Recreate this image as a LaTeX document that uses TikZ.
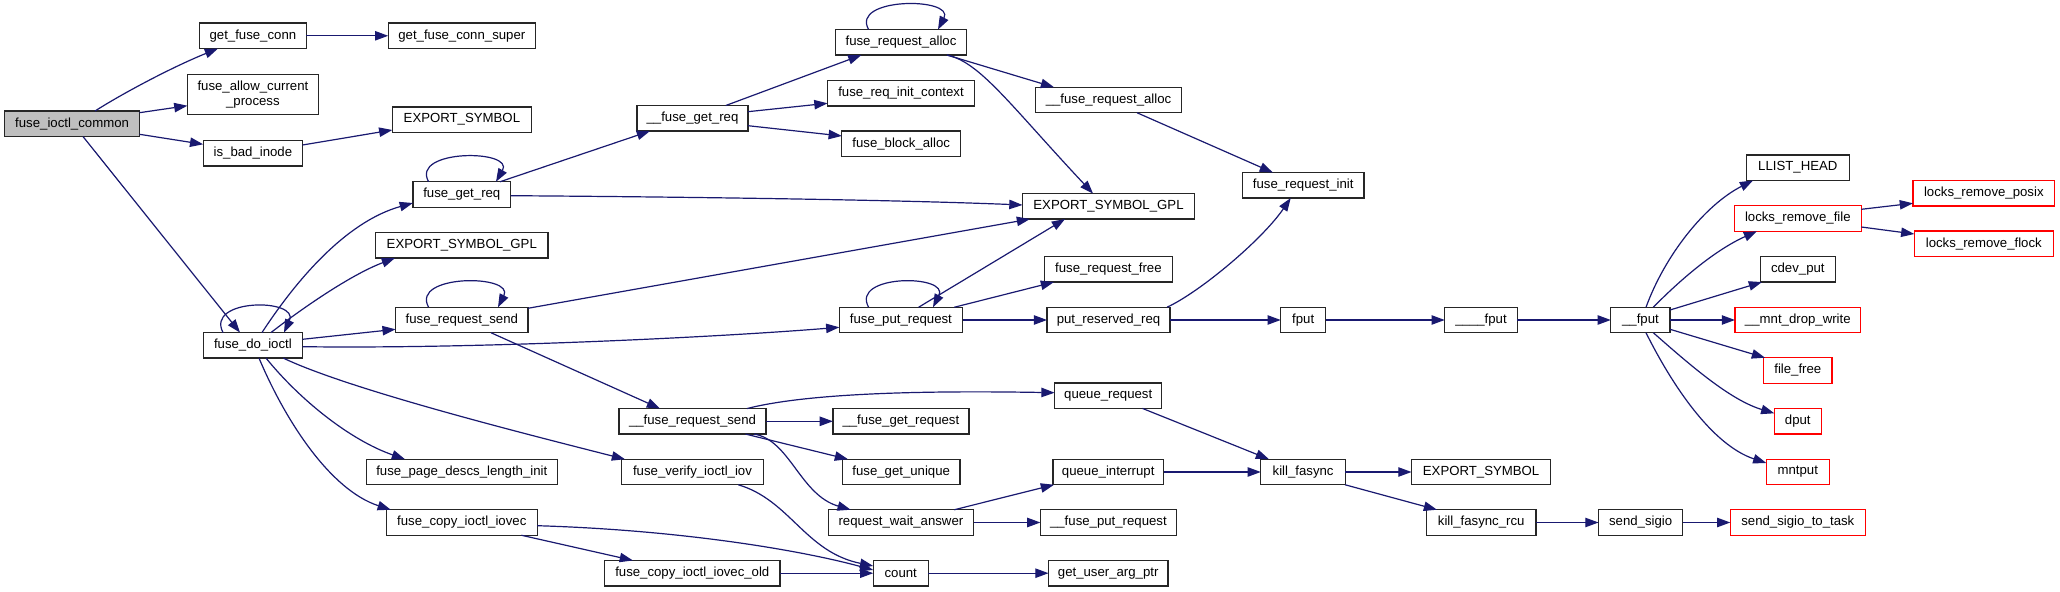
\documentclass[tikz,border=0pt]{standalone}
\usepackage{fontspec}
\setmainfont{Liberation Sans}
\usetikzlibrary{arrows.meta,calc}
\definecolor{edgec}{HTML}{191970}
\definecolor{gfill}{HTML}{BFBFBF}
\tikzset{
 box/.style={draw=black!85, line width=0.65pt, rectangle, inner sep=0pt, outer sep=0pt, minimum height=12.75pt, font=\fontsize{6.6}{7.2}\selectfont, fill=white},
 redbox/.style={box, draw=red},
 e/.style={draw=edgec, line width=0.6pt, -{Triangle[length=6.6pt,width=4.7pt]}},
}
\begin{document}
\begin{tikzpicture}[x=0.5pt,y=-0.5pt]
\useasboundingbox[fill=white] (0,0) rectangle (2060,592);
% nodes
\node[box,fill=gfill,minimum width=67.4pt] (ic) at (72.1,123.8) {fuse\_ioctl\_common};
\node[box,minimum width=53.55pt] (gfc) at (252.9,35.8) {get\_fuse\_conn};
\node[box,minimum width=73.6pt] (gfcs) at (461.8,35.8) {get\_fuse\_conn\_super};
\node[box,minimum width=65.5pt,minimum height=20pt,align=center] (facp) at (252.9,94.5) {fuse\_allow\_current\\\_process};
\node[box,minimum width=69.55pt] (esa) at (461.9,119.7) {EXPORT\_SYMBOL};
\node[box,minimum width=49.7pt] (ibi) at (252.9,153.2) {is\_bad\_inode};
\node[box,minimum width=48.9pt] (fgr) at (461.8,194.5) {fuse\_get\_req};
\node[box,minimum width=86.1pt] (esga) at (461.8,245.3) {EXPORT\_SYMBOL\_GPL};
\node[box,minimum width=49.65pt] (fdi) at (252.9,345.3) {fuse\_do\_ioctl};
\node[box,minimum width=66.1pt] (frs) at (461.8,320) {fuse\_request\_send};
\node[box,minimum width=95.35pt] (fpdli) at (461.8,472) {fuse\_page\_descs\_length\_init};
\node[box,minimum width=75.35pt] (fcii) at (461.8,522.5) {fuse\_copy\_ioctl\_iovec};
\node[box,minimum width=55.4pt] (ufgr) at (692.5,118.3) {\_\_fuse\_get\_req};
\node[box,minimum width=65.35pt] (fra) at (901,42.3) {fuse\_request\_alloc};
\node[box,minimum width=73.55pt] (fric) at (901,93.2) {fuse\_req\_init\_context};
\node[box,minimum width=59.45pt] (fba) at (901.2,143.7) {fuse\_block\_alloc};
\node[box,minimum width=72.85pt] (ufra) at (1108.5,100) {\_\_fuse\_request\_alloc};
\node[box,minimum width=86.05pt] (esgb) at (1108.5,206.3) {EXPORT\_SYMBOL\_GPL};
\node[box,minimum width=63.75pt] (frf) at (1108.4,269.3) {fuse\_request\_free};
\node[box,minimum width=60.7pt] (fri) at (1303.2,185.3) {fuse\_request\_init};
\node[box,minimum width=61.6pt] (fpr) at (900.9,320) {fuse\_put\_request};
\node[box,minimum width=61.45pt] (prr) at (1108.5,320) {put\_reserved\_req};
\node[box,minimum width=73.6pt] (ufrs) at (692.5,421.3) {\_\_fuse\_request\_send};
\node[box,minimum width=70.7pt] (fviv) at (692.5,472) {fuse\_verify\_ioctl\_iov};
\node[box,minimum width=87.7pt] (fciio) at (692.3,573.2) {fuse\_copy\_ioctl\_iovec\_old};
\node[box,minimum width=68pt] (ufgrq) at (900.9,421.3) {\_\_fuse\_get\_request};
\node[box,minimum width=58.75pt] (fgu) at (901.2,472) {fuse\_get\_unique};
\node[box,minimum width=72.7pt] (rwa) at (900.9,522.5) {request\_wait\_answer};
\node[box,minimum width=27.5pt] (cnt) at (900.7,573.2) {count};
\node[box,minimum width=53.6pt] (qr) at (1108.2,395.7) {queue\_request};
\node[box,minimum width=55.35pt] (qi) at (1108.2,472) {queue\_interrupt};
\node[box,minimum width=68pt] (ufpr) at (1108.4,522.5) {\_\_fuse\_put\_request};
\node[box,minimum width=59.65pt] (guap) at (1108.2,573.2) {get\_user\_arg\_ptr};
\node[box,minimum width=22.5pt] (fput) at (1303.2,320) {fput};
\node[box,minimum width=36.3pt] (ffput) at (1481,320) {\_\_\_\_fput};
\node[box,minimum width=29.6pt] (tfput) at (1640.4,320) {\_\_fput};
\node[box,minimum width=42.3pt] (kf) at (1303.1,472) {kill\_fasync};
\node[box,minimum width=69.6pt] (esb) at (1481.1,472) {EXPORT\_SYMBOL};
\node[box,minimum width=54.8pt] (kfr) at (1481.2,522.5) {kill\_fasync\_rcu};
\node[box,minimum width=42.1pt] (ss) at (1640.6,522.5) {send\_sigio};
\node[box,minimum width=51.5pt] (llh) at (1797.8,167.7) {LLIST\_HEAD};
\node[redbox,minimum width=63.5pt] (lrf) at (1797.8,218.5) {locks\_remove\_file};
\node[redbox,minimum width=70.85pt] (lrp) at (1983.8,193.2) {locks\_remove\_posix};
\node[redbox,minimum width=69.5pt] (lrfl) at (1983.8,243.8) {locks\_remove\_flock};
\node[box,minimum width=37.5pt] (cdev) at (1797.8,269.3) {cdev\_put};
\node[redbox,minimum width=62.85pt] (mdw) at (1797.8,320) {\_\_mnt\_drop\_write};
\node[redbox,minimum width=34.15pt] (ff) at (1797.8,370.5) {file\_free};
\node[redbox,minimum width=23.5pt] (dput) at (1797.8,421.3) {dput};
\node[redbox,minimum width=31.5pt] (mnt) at (1797.8,472) {mntput};
\node[redbox,minimum width=67.5pt] (ssct) at (1797.8,522.5) {send\_sigio\_to\_task};
% edges from fuse_ioctl_common
\draw[e] ($(ic)+(22.9,-12.75)$) .. controls (120,95) and (170,68) .. ($(gfc)+(-34.9,12.75)$);
\draw[e] ($(ic)+(67.4,-11.1)$) -- ($(facp)+(-65.5,11.2)$);
\draw[e] ($(ic)+(67.4,10.5)$) -- ($(ibi)+(-49.7,-8.9)$);
\draw[e] ($(ic)+(10.9,12.75)$) -- ($(fdi)+(-12.9,-12.75)$);
\draw[e] (gfc) -- (gfcs);
\draw[e] ($(ibi)+(49.7,-8.2)$) -- ($(esa)+(-69.6,10.3)$);
% fuse_do_ioctl
\draw[e] ($(fdi)+(-29.9,-12.75)$) .. controls (205,298) and (300,298) .. ($(fdi)+(31.1,-12.75)$);
\draw[e] ($(fdi)+(9.1,-12.75)$) .. controls (295,282) and (345,222) .. ($(fgr)+(-48.9,8.5)$);
\draw[e] ($(fdi)+(18.1,-12.75)$) .. controls (300,310) and (350,275) .. ($(esga)+(-66.8,12.75)$);
\draw[e] ($(fdi)+(49.6,-6)$) -- ($(frs)+(-66.1,9.3)$);
\draw[e] ($(fdi)+(49.6,1.4)$) .. controls (480,349) and (720,337) .. ($(fpr)+(-61.6,7.3)$);
\draw[e] ($(fdi)+(30.3,12.75)$) .. controls (350,390) and (530,435) .. ($(fviv)+(-67.5,-12.75)$);
\draw[e] ($(fdi)+(13.1,12.75)$) .. controls (300,400) and (350,440) .. ($(fpdli)+(-56.8,-12.75)$);
\draw[e] ($(fdi)+(6.1,12.75)$) .. controls (285,420) and (330,490) .. ($(fcii)+(-71,-12.75)$);
% fuse_request_send
\draw[e] ($(frs)+(-33.2,-12.75)$) .. controls (410,274) and (515,274) .. ($(frs)+(36.2,-12.75)$);
\draw[e] ($(frs)+(66.1,-11.7)$) -- ($(esgb)+(-78.5,12.75)$);
\draw[e] ($(frs)+(29.2,12.75)$) -- ($(ufrs)+(-32.5,-12.75)$);
% fuse_get_req
\draw[e] ($(fgr)+(-33.2,-12.75)$) .. controls (410,149) and (515,149) .. ($(fgr)+(34.2,-12.75)$);
\draw[e] ($(fgr)+(38.2,-12.75)$) -- ($(ufgr)+(-42.5,12.75)$);
\draw[e] ($(fgr)+(48.9,1.2)$) .. controls (700,197) and (900,200) .. ($(esgb)+(-86,-1.3)$);
% __fuse_get_req
\draw[e] ($(ufgr)+(33.2,-12.75)$) -- ($(fra)+(-39.6,12.75)$);
\draw[e] ($(ufgr)+(55.4,-6.6)$) -- ($(fric)+(-73.5,10.1)$);
\draw[e] ($(ufgr)+(55.4,7.4)$) -- ($(fba)+(-59.4,-7.7)$);
% fuse_request_alloc
\draw[e] ($(fra)+(-32.4,-12.75)$) .. controls (850,-3) and (955,-3) .. ($(fra)+(37,-12.75)$);
\draw[e] ($(fra)+(46,12.75)$) -- ($(ufra)+(-54.5,-12.75)$);
\draw[e] ($(fra)+(46,12.75)$) .. controls (980,62) and (1010,105) .. ($(esgb)+(-15.5,-12.75)$);
\draw[e] ($(ufra)+(28.5,12.75)$) -- ($(fri)+(-30.3,-12.75)$);
% fuse_put_request
\draw[e] ($(fpr)+(-32.3,-12.75)$) .. controls (850,274) and (950,274) .. ($(fpr)+(32.1,-12.75)$);
\draw[e] ($(fpr)+(17.7,-12.75)$) -- ($(esgb)+(-43.5,12.75)$);
\draw[e] ($(fpr)+(53.4,-12.75)$) -- ($(frf)+(-54.4,12.75)$);
\draw[e] (fpr) -- (prr);
\draw[e] ($(prr)+(58.5,-12.75)$) .. controls (1200,292) and (1262,240) .. ($(fri)+(-12.5,12.75)$);
\draw[e] (prr) -- (fput);
\draw[e] (fput) -- (ffput);
\draw[e] (ffput) -- (tfput);
% __fuse_request_send
\draw[e] ($(ufrs)+(54.5,-12.75)$) .. controls (800,395) and (900,390) .. ($(qr)+(-53.6,-3)$);
\draw[e] (ufrs) -- (ufgrq);
\draw[e] ($(ufrs)+(52.9,12.75)$) -- ($(fgu)+(-53.2,-12.75)$);
\draw[e] ($(ufrs)+(61.5,12.75)$) .. controls (790,440) and (800,495) .. ($(rwa)+(-50.2,-12.75)$);
\draw[e] ($(rwa)+(53.4,-12.75)$) -- ($(qi)+(-54.2,12.75)$);
\draw[e] (rwa) -- (ufpr);
\draw[e] ($(qr)+(34.3,12.75)$) -- ($(kf)+(-34.1,-12.75)$);
\draw[e] (qi) -- (kf);
\draw[e] (kf) -- (esb);
\draw[e] ($(kf)+(41.9,12.75)$) -- ($(kfr)+(-44.2,-12.75)$);
\draw[e] (kfr) -- (ss);
\draw[e] (ss) -- (ssct);
% count
\draw[e] ($(fviv)+(45.7,12.75)$) .. controls (790,500) and (805,552) .. ($(cnt)+(-27.5,-7.2)$);
\draw[e] ($(fcii)+(75.3,3.2)$) .. controls (680,530) and (800,550) .. ($(cnt)+(-27.5,-3.2)$);
\draw[e] ($(fcii)+(59.6,12.75)$) -- ($(fciio)+(-59.4,-12.75)$);
\draw[e] (fciio) -- (cnt);
\draw[e] (cnt) -- (guap);
% __fput
\draw[e] ($(tfput)+(5.6,-12.75)$) .. controls (1665,255) and (1705,205) .. ($(llh)+(-44.8,12.75)$);
\draw[e] ($(tfput)+(12.9,-12.75)$) .. controls (1680,280) and (1715,250) .. ($(lrf)+(-40.8,12.75)$);
\draw[e] ($(tfput)+(29.6,-10)$) -- ($(cdev)+(-35.8,12.75)$);
\draw[e] (tfput) -- (mdw);
\draw[e] ($(tfput)+(29.6,9.3)$) -- ($(ff)+(-32.8,-12.75)$);
\draw[e] ($(tfput)+(12.9,12.75)$) .. controls (1690,365) and (1730,400) .. ($(dput)+(-23.5,-8)$);
\draw[e] ($(tfput)+(5.6,12.75)$) .. controls (1672,385) and (1712,445) .. ($(mnt)+(-31.5,-9)$);
\draw[e] ($(lrf)+(63.5,-9.2)$) -- ($(lrp)+(-70.85,10.1)$);
\draw[e] ($(lrf)+(63.5,8.5)$) -- ($(lrfl)+(-69.5,-9.8)$);
\end{tikzpicture}
\end{document}
